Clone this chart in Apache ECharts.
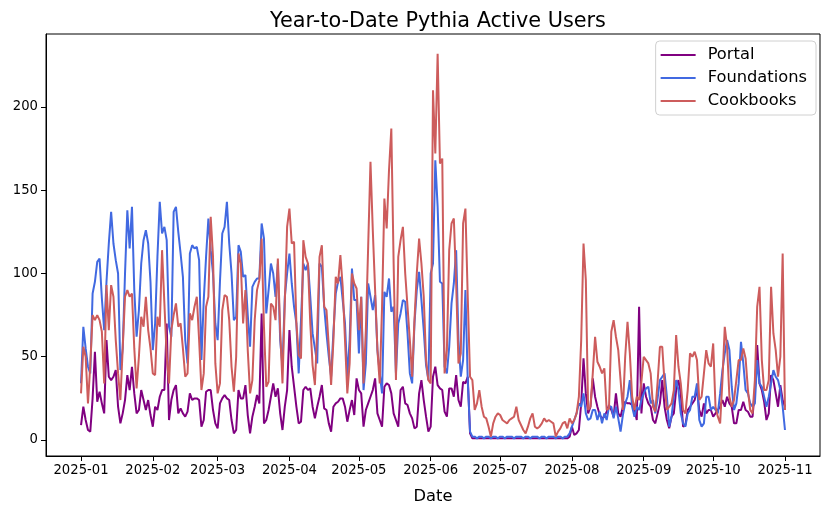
<!DOCTYPE html>
<html>
<head>
<meta charset="utf-8">
<script src="https://cdn.jsdelivr.net/npm/echarts@6/dist/echarts.min.js"></script>
<style>html,body{margin:0;padding:0;background:#fff}#c{width:831px;height:512px}</style>
</head>
<body>
<div id="c"></div>
<script>
// Daily values starting 2025-01-01
const startYear = 2025, startMonth = 0, startDay = 1;
const seriesNames = ['Portal', 'Foundations', 'Cookbooks'];
const tickLabels = ['2025-01','2025-02','2025-03','2025-04','2025-05','2025-06','2025-07','2025-08','2025-09','2025-10','2025-11'];
const yTicks = [0, 50, 100, 150, 200];

const portal = [
 9,20,12,6,5,25,53,23,29,22,
 16,60,38,36,38,42,20,10,16,24,
 39,30,44,28,16,18,30,24,18,24,
 15,8,20,18,26,30,30,70,12,24,
 30,33,16,19,16,14,17,28,24,25,
 25,24,8,12,29,30,30,18,10,7,
 22,25,27,25,24,12,4,6,30,25,
 25,33,15,4,14,20,27,22,76,10,
 12,18,26,34,26,31,16,6,20,30,
 66,44,32,20,10,11,30,32,30,31,
 20,13,20,26,33,19,18,10,5,20,
 22,23,25,25,20,11,18,24,15,37,
 30,28,8,18,22,26,30,37,16,12,
 8,32,34,33,28,16,12,8,30,32,
 22,21,16,13,7,8,28,36,24,14,
 5,8,38,44,33,31,30,17,14,31,
 31,26,39,24,20,35,34,38,4,1,
 1,1,1,1,1,1,1,1,1,1,
 1,1,1,1,1,1,1,1,1,1,
 1,1,1,1,1,1,1,1,1,1,
 1,1,1,1,1,1,1,1,1,1,
 1,2,8,3,4,6,22,49,28,16,
 20,37,26,20,15,13,14,17,21,18,
 14,28,16,14,20,23,22,22,21,18,
 12,80,16,34,26,22,20,12,10,16,
 22,36,20,12,7,14,16,30,36,28,
 8,9,18,20,22,24,31,18,14,22,
 16,18,18,14,16,18,20,24,20,26,
 22,20,10,10,18,18,23,18,17,14,
 14,30,57,34,30,23,12,16,39,36,
 28,20,33,24,20
];

const foundations = [
 34,68,55,44,40,88,95,107,109,85,
 66,95,118,137,118,108,100,42,55,100,
 138,115,140,90,62,78,106,120,126,118,
 95,54,70,110,143,124,128,120,68,62,
 137,140,125,112,98,60,46,112,117,115,
 116,108,48,84,110,133,114,100,70,60,
 95,124,128,143,118,100,72,74,117,113,
 98,99,75,56,92,95,97,97,130,121,
 76,90,106,100,86,106,60,44,86,100,
 112,94,80,70,40,72,106,102,106,86,
 64,55,46,106,104,80,64,50,38,65,
 88,95,98,84,70,38,60,103,84,84,
 52,86,30,46,94,86,78,87,54,40,
 28,89,86,97,77,80,40,70,76,84,
 83,64,40,34,70,90,101,84,66,45,
 36,100,106,168,140,95,94,44,40,56,
 82,94,114,60,38,48,90,36,5,2,
 2,1,2,2,1,2,2,1,2,2,
 1,2,2,1,2,2,2,1,2,2,
 2,1,2,2,1,2,2,2,1,2,
 2,1,2,2,2,1,2,2,1,2,
 2,4,8,12,16,22,20,28,16,12,
 13,18,18,12,17,10,16,12,20,20,
 13,20,13,5,15,22,26,36,20,14,
 20,18,24,28,31,32,22,24,16,25,
 36,38,40,26,8,14,26,36,30,16,
 10,8,16,18,26,26,34,12,8,10,
 26,26,18,20,18,16,28,42,52,60,
 54,32,18,22,34,59,46,30,28,22,
 20,22,48,34,32,26,20,26,34,42,
 38,36,30,20,6
];

const cookbooks = [
 28,56,50,22,45,75,72,75,72,65,
 34,93,66,93,86,60,40,24,55,86,
 90,86,88,55,31,50,74,68,86,66,
 55,40,39,74,68,114,82,50,34,66,
 75,82,68,70,55,38,40,76,72,80,
 86,60,30,40,80,86,134,110,46,28,
 34,78,87,86,72,44,29,50,112,106,
 70,90,54,28,36,72,90,96,121,68,
 32,35,82,80,72,109,66,34,82,128,
 139,118,119,70,51,49,120,110,106,70,
 45,33,66,110,117,80,78,56,33,60,
 98,94,111,92,60,28,46,100,94,91,
 66,86,34,66,116,167,126,90,54,34,
 80,145,127,162,187,106,36,110,120,128,
 100,80,60,38,72,100,121,106,86,48,
 36,34,210,172,232,166,169,40,54,114,
 130,133,94,46,52,130,139,86,38,36,
 18,22,30,20,14,13,8,2,10,14,
 16,15,12,11,10,12,13,14,20,12,
 9,6,4,8,13,16,8,7,8,10,
 13,11,12,11,10,2,5,7,10,11,
 7,13,10,12,16,26,60,118,96,18,
 20,40,62,47,44,40,43,18,19,65,
 72,62,54,36,18,50,71,52,26,18,
 26,24,35,50,48,46,40,20,17,35,
 56,56,34,18,20,22,30,63,44,34,
 18,16,30,52,50,53,48,24,26,40,
 54,46,44,58,20,14,10,36,68,56,
 26,20,24,36,48,48,55,49,30,18,
 16,36,80,92,48,30,30,36,92,64,
 54,38,50,112,18
];

const colors = ['#800080', '#4169E1', '#CD5C5C'];

const dates = portal.map((_, i) => Date.UTC(startYear, startMonth, startDay + i));
const tickValues = tickLabels.map(s => Date.UTC(+s.slice(0, 4), +s.slice(5, 7) - 1, 1));
const pair = arr => arr.map((v, i) => [dates[i], v]);

const FONT = 'DejaVu Sans';
const chart = echarts.init(document.getElementById('c'), null, {renderer: 'canvas'});
chart.setOption({
  animation: false,
  backgroundColor: '#fff',
  title: {
    text: 'Year-to-Date Pythia Active Users',
    left: 433, top: 6, textAlign: 'center',
    textStyle: {fontFamily: FONT, fontSize: 20.8, fontWeight: 'normal', color: '#000'}
  },
  legend: {
    data: seriesNames,
    orient: 'vertical',
    right: 15, top: 41,
    icon: 'rect', itemWidth: 35, itemHeight: 2.2, itemGap: 7,
    padding: [6, 9, 6, 5],
    backgroundColor: 'rgba(255,255,255,0.8)',
    borderColor: '#d0d0d0', borderWidth: 1, borderRadius: 4,
    textStyle: {fontFamily: FONT, fontSize: 16.3, color: '#000', padding: [0, 0, 0, 7]}
  },
  grid: {left: 46, right: 11, top: 34, bottom: 56, show: true, borderColor: '#000', borderWidth: 1, containLabel: false},
  xAxis: {
    type: 'value',
    min: Date.UTC(2024, 11, 16, 21),
    max: Date.UTC(2025, 10, 16, 3),
    name: 'Date', nameLocation: 'middle', nameGap: 33,
    nameTextStyle: {fontFamily: FONT, fontSize: 16.3, color: '#000'},
    axisLine: {show: true, onZero: false, lineStyle: {color: '#000', width: 1}},
    axisTick: {show: true, customValues: tickValues, length: 5, lineStyle: {color: '#000'}},
    axisLabel: {
      customValues: tickValues, margin: 8,
      fontFamily: FONT, fontSize: 13.2, color: '#000',
      formatter: v => { const i = tickValues.indexOf(v); return i >= 0 ? tickLabels[i] : ''; }
    },
    splitLine: {show: false}
  },
  yAxis: {
    type: 'value', min: -9.6, max: 243.8,
    axisLine: {show: true, onZero: false, lineStyle: {color: '#000', width: 1}},
    axisTick: {show: true, customValues: yTicks, length: 5, lineStyle: {color: '#000'}},
    axisLabel: {customValues: yTicks, margin: 8, fontFamily: FONT, fontSize: 13.2, color: '#000'},
    splitLine: {show: false}
  },
  series: [portal, foundations, cookbooks].map((arr, k) => ({
    name: seriesNames[k], type: 'line', data: pair(arr),
    showSymbol: false, symbol: 'none',
    lineStyle: {color: colors[k], width: 2}, itemStyle: {color: colors[k]},
    z: 2 + k
  }))
});
</script>
</body>
</html>
